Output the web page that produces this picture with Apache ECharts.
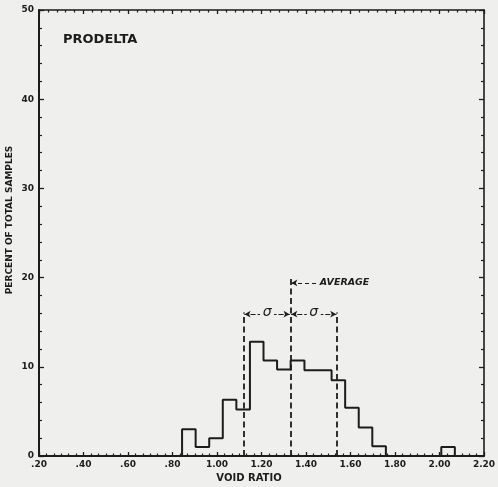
<!DOCTYPE html>
<html><head><meta charset="utf-8">
<script src="https://cdn.jsdelivr.net/npm/echarts@6/dist/echarts.min.js"></script>
<style>html,body{margin:0;padding:0;background:#efefed}#c{width:498px;height:487px}</style>
</head><body><div id="c"></div>
<script>
// Histogram of void ratio, prodelta samples
const binEdges = [0.843, 0.904, 0.965, 1.026, 1.087, 1.148, 1.209, 1.270, 1.331, 1.393, 1.454, 1.515, 1.576, 1.637, 1.698, 1.759];
const binPercents = [3.0, 1.0, 2.0, 6.3, 5.2, 12.8, 10.7, 9.7, 10.7, 9.6, 9.6, 8.5, 5.4, 3.2, 1.1];
const outlierEdges = [2.008, 2.069];
const outlierPercents = [1.0];
const xTickValues = [0.2, 0.4, 0.6, 0.8, 1.0, 1.2, 1.4, 1.6, 1.8, 2.0, 2.2];
const xTickLabels = ['.20', '.40', '.60', '.80', '1.00', '1.20', '1.40', '1.60', '1.80', '2.00', '2.20'];
const yTickLabels = ['0', '10', '20', '30', '40', '50'];
const average = 1.33;
const sigma = 0.21;
const averageMarkTop = 20.0;
const sigmaMarkTop = 16.1;
const sigmaArrowLevel = 15.9;
const averageArrowLevel = 19.4;

const ink = '#1c1c1c';
const bg = '#efefed';
const font = 'DejaVu Sans';

const outline = [[binEdges[0], 0]];
for (let i = 0; i < binPercents.length; i++) outline.push([binEdges[i], binPercents[i]]);
outline.push([binEdges[binEdges.length - 1], 0]);
outline.push([outlierEdges[0], outlierPercents[0]]);
outline.push([outlierEdges[1], 0]);

const chart = echarts.init(document.getElementById('c'), null, {renderer: 'canvas'});
const dashed = {color: ink, width: 1.8, type: [6, 3.5]};
const thinDash = {color: ink, width: 1.2, type: [4, 3]};

const xBase = {
  type: 'value', min: 0.2, max: 2.2, interval: 0.2,
  splitLine: {show: false},
  axisLine: {show: true, onZero: false, lineStyle: {color: ink, width: 2}},
  axisTick: {show: true, inside: true, length: 4, lineStyle: {color: ink, width: 1.3}},
  minorTick: {show: true, splitNumber: 6, length: 2.5, lineStyle: {color: ink, width: 1.2}},
  minorSplitLine: {show: false}
};
const yBase = {
  type: 'value', min: 0, max: 50, interval: 10,
  splitLine: {show: false},
  axisLine: {show: true, onZero: false, lineStyle: {color: ink, width: 2}},
  axisTick: {show: true, inside: true, length: 5, lineStyle: {color: ink, width: 1.3}},
  minorTick: {show: true, splitNumber: 5, length: 3, lineStyle: {color: ink, width: 1.2}},
  minorSplitLine: {show: false}
};

chart.setOption({
  animation: false,
  backgroundColor: bg,
  title: {
    text: 'PRODELTA', left: 58, top: 28,
    textStyle: {fontFamily: font, fontWeight: 'bold', fontSize: 13, color: ink}
  },
  grid: {left: 39, right: 14, top: 10, bottom: 31, containLabel: false, outerBoundsMode: 'none'},
  xAxis: [
    Object.assign({}, xBase, {
      position: 'bottom',
      name: 'VOID RATIO', nameLocation: 'middle', nameGap: 17, nameMoveOverlap: false,
      nameTextStyle: {fontFamily: font, fontWeight: 'bold', fontSize: 10, color: ink, padding: [0, 25, 0, 0]},
      axisLabel: {
        show: true, margin: 4, color: ink, fontFamily: font, fontWeight: 'bold', fontSize: 9,
        showMinLabel: true, showMaxLabel: true,
        formatter: v => xTickLabels[Math.round((v - xTickValues[0]) / 0.2)]
      }
    }),
    Object.assign({}, xBase, {
      position: 'top', axisLabel: {show: false},
      axisLine: {show: true, onZero: false, lineStyle: {color: ink, width: 1.6}},
      minorTick: {show: true, splitNumber: 5, length: 2.5, lineStyle: {color: ink, width: 1.2}}
    })
  ],
  yAxis: [
    Object.assign({}, yBase, {
      position: 'left',
      name: 'PERCENT OF TOTAL SAMPLES', nameLocation: 'middle', nameGap: 25, nameMoveOverlap: false,
      nameTextStyle: {fontFamily: font, fontWeight: 'bold', fontSize: 9, color: ink, padding: [0, 0, 0, 26]},
      axisLabel: {
        show: true, margin: 5, color: ink, fontFamily: font, fontWeight: 'bold', fontSize: 9,
        formatter: v => yTickLabels[Math.round(v / 10)]
      }
    }),
    Object.assign({}, yBase, {
      position: 'right', axisLabel: {show: false},
      axisLine: {show: true, onZero: false, lineStyle: {color: ink, width: 1.6}}
    })
  ],
  series: [{
    type: 'line',
    xAxisIndex: 0, yAxisIndex: 0,
    step: 'end',
    data: outline,
    symbol: 'none',
    lineStyle: {color: ink, width: 2},
    silent: true,
    markLine: {
      silent: true,
      symbol: 'none',
      label: {show: false},
      data: [
        [{coord: [average, 0], lineStyle: dashed}, {coord: [average, averageMarkTop]}],
        [{coord: [average - sigma, 0], lineStyle: dashed}, {coord: [average - sigma, sigmaMarkTop]}],
        [{coord: [average + sigma, 0], lineStyle: dashed}, {coord: [average + sigma, sigmaMarkTop]}],
        [{coord: [average - 0.004, sigmaArrowLevel], lineStyle: thinDash, symbol: 'none'}, {coord: [average - sigma + 0.004, sigmaArrowLevel], symbol: 'arrow', symbolSize: [5, 6]}],
        [{coord: [average - sigma + 0.004, sigmaArrowLevel], lineStyle: thinDash, symbol: 'none'}, {coord: [average - 0.004, sigmaArrowLevel], symbol: 'arrow', symbolSize: [5, 6]}],
        [{coord: [average + 0.004, sigmaArrowLevel], lineStyle: thinDash, symbol: 'none'}, {coord: [average + sigma - 0.004, sigmaArrowLevel], symbol: 'arrow', symbolSize: [5, 6]}],
        [{coord: [average + sigma - 0.004, sigmaArrowLevel], lineStyle: thinDash, symbol: 'none'}, {coord: [average + 0.004, sigmaArrowLevel], symbol: 'arrow', symbolSize: [5, 6]}],
        [{coord: [average + 0.115, averageArrowLevel], lineStyle: thinDash, symbol: 'none'}, {coord: [average + 0.004, averageArrowLevel], symbol: 'arrow', symbolSize: [5, 6]}]
      ]
    },
    markPoint: {
      silent: true,
      data: [
        {coord: [average - sigma / 2, sigmaArrowLevel], symbol: 'rect', symbolSize: [14, 12], itemStyle: {color: bg},
         label: {show: true, position: 'inside', formatter: 'σ', fontFamily: font, fontStyle: 'italic', fontSize: 14, color: ink, offset: [0, -2]}},
        {coord: [average + sigma / 2, sigmaArrowLevel], symbol: 'rect', symbolSize: [14, 12], itemStyle: {color: bg},
         label: {show: true, position: 'inside', formatter: 'σ', fontFamily: font, fontStyle: 'italic', fontSize: 14, color: ink, offset: [0, -2]}},
        {coord: [average + 0.13, averageArrowLevel], symbol: 'circle', symbolSize: 1, itemStyle: {color: 'rgba(0,0,0,0)'},
         label: {show: true, position: 'right', distance: 0, formatter: 'AVERAGE', fontFamily: font, fontStyle: 'italic', fontWeight: 'bold', fontSize: 9.5, color: ink}}
      ]
    }
  }]
});
</script>
</body></html>
